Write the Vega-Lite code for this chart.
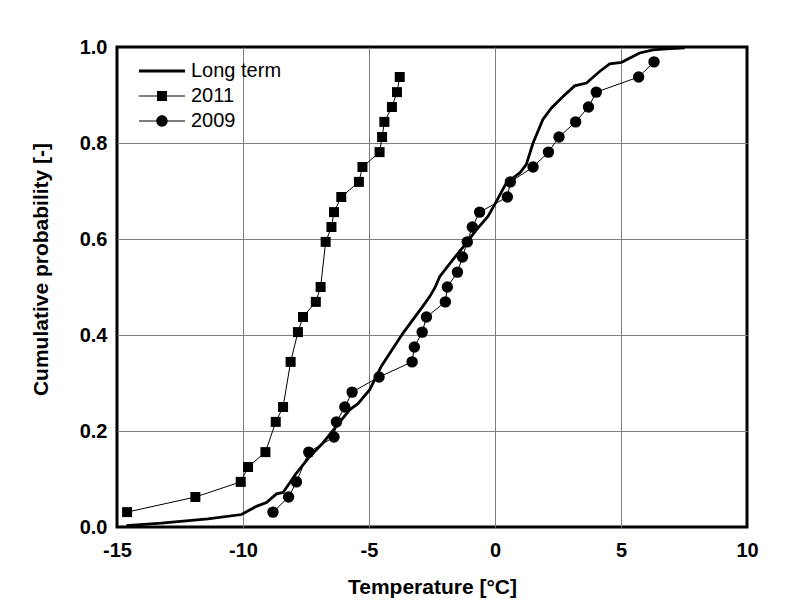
{
  "$schema": "https://vega.github.io/schema/vega-lite/v6.json",
  "width": 630,
  "height": 480,
  "autosize": {"type": "none"},
  "padding": {"left": 117, "top": 47, "right": 51, "bottom": 88},
  "background": "white",
  "config": {
    "view": {"stroke": "black", "strokeWidth": 3},
    "font": "Liberation Sans",
    "axis": {
      "labelFont": "Liberation Sans",
      "labelFontSize": 20,
      "labelFontWeight": "bold",
      "labelColor": "black",
      "labelFlush": false,
      "titleFont": "Liberation Sans",
      "titleFontSize": 21,
      "titleFontWeight": "bold",
      "titleColor": "black",
      "domain": false,
      "ticks": false,
      "gridColor": "#808080",
      "gridWidth": 1
    },
    "legend": {
      "labelFont": "Liberation Sans",
      "labelFontSize": 20,
      "labelColor": "black"
    }
  },
  "data": {
    "values": [
      {"series": "Long term", "T": -14.63, "P": 0.003},
      {"series": "Long term", "T": -13.24, "P": 0.008},
      {"series": "Long term", "T": -11.39, "P": 0.017},
      {"series": "Long term", "T": -10.06, "P": 0.026},
      {"series": "Long term", "T": -9.47, "P": 0.043},
      {"series": "Long term", "T": -9.07, "P": 0.051},
      {"series": "Long term", "T": -8.67, "P": 0.069},
      {"series": "Long term", "T": -8.41, "P": 0.072},
      {"series": "Long term", "T": -7.88, "P": 0.1125},
      {"series": "Long term", "T": -7.35, "P": 0.147},
      {"series": "Long term", "T": -6.83, "P": 0.175},
      {"series": "Long term", "T": -6.29, "P": 0.21},
      {"series": "Long term", "T": -5.77, "P": 0.244},
      {"series": "Long term", "T": -5.44, "P": 0.257},
      {"series": "Long term", "T": -4.97, "P": 0.286},
      {"series": "Long term", "T": -4.51, "P": 0.335},
      {"series": "Long term", "T": -3.65, "P": 0.404},
      {"series": "Long term", "T": -2.86, "P": 0.46},
      {"series": "Long term", "T": -2.59, "P": 0.48},
      {"series": "Long term", "T": -2.39, "P": 0.498},
      {"series": "Long term", "T": -2.19, "P": 0.522},
      {"series": "Long term", "T": -1.67, "P": 0.557},
      {"series": "Long term", "T": -1.13, "P": 0.592},
      {"series": "Long term", "T": -0.74, "P": 0.619},
      {"series": "Long term", "T": -0.28, "P": 0.647},
      {"series": "Long term", "T": 0.05, "P": 0.678},
      {"series": "Long term", "T": 0.45, "P": 0.717},
      {"series": "Long term", "T": 0.98, "P": 0.7375},
      {"series": "Long term", "T": 1.24, "P": 0.755},
      {"series": "Long term", "T": 1.51, "P": 0.8},
      {"series": "Long term", "T": 1.9, "P": 0.849},
      {"series": "Long term", "T": 2.24, "P": 0.873},
      {"series": "Long term", "T": 2.7, "P": 0.897},
      {"series": "Long term", "T": 3.16, "P": 0.919},
      {"series": "Long term", "T": 3.63, "P": 0.925},
      {"series": "Long term", "T": 4.15, "P": 0.949},
      {"series": "Long term", "T": 4.55, "P": 0.965},
      {"series": "Long term", "T": 5.02, "P": 0.968},
      {"series": "Long term", "T": 5.74, "P": 0.9875},
      {"series": "Long term", "T": 6.27, "P": 0.994},
      {"series": "Long term", "T": 6.8, "P": 0.996},
      {"series": "Long term", "T": 7.53, "P": 0.998},
      {"series": "2011", "T": -14.6, "P": 0.031},
      {"series": "2011", "T": -11.89, "P": 0.0625},
      {"series": "2011", "T": -10.09, "P": 0.094},
      {"series": "2011", "T": -9.8, "P": 0.125},
      {"series": "2011", "T": -9.11, "P": 0.156},
      {"series": "2011", "T": -8.7, "P": 0.219},
      {"series": "2011", "T": -8.41, "P": 0.25},
      {"series": "2011", "T": -8.11, "P": 0.344},
      {"series": "2011", "T": -7.82, "P": 0.406},
      {"series": "2011", "T": -7.62, "P": 0.4375},
      {"series": "2011", "T": -7.11, "P": 0.469},
      {"series": "2011", "T": -6.92, "P": 0.5},
      {"series": "2011", "T": -6.72, "P": 0.594},
      {"series": "2011", "T": -6.49, "P": 0.625},
      {"series": "2011", "T": -6.39, "P": 0.656},
      {"series": "2011", "T": -6.1, "P": 0.6875},
      {"series": "2011", "T": -5.4, "P": 0.719},
      {"series": "2011", "T": -5.26, "P": 0.75},
      {"series": "2011", "T": -4.58, "P": 0.781},
      {"series": "2011", "T": -4.48, "P": 0.8125},
      {"series": "2011", "T": -4.39, "P": 0.844},
      {"series": "2011", "T": -4.09, "P": 0.875},
      {"series": "2011", "T": -3.89, "P": 0.906},
      {"series": "2011", "T": -3.78, "P": 0.9375},
      {"series": "2009", "T": -8.81, "P": 0.031},
      {"series": "2009", "T": -8.19, "P": 0.0625},
      {"series": "2009", "T": -7.88, "P": 0.094},
      {"series": "2009", "T": -7.39, "P": 0.156},
      {"series": "2009", "T": -6.39, "P": 0.1875},
      {"series": "2009", "T": -6.29, "P": 0.219},
      {"series": "2009", "T": -5.96, "P": 0.25},
      {"series": "2009", "T": -5.67, "P": 0.281},
      {"series": "2009", "T": -4.6, "P": 0.3125},
      {"series": "2009", "T": -3.29, "P": 0.344},
      {"series": "2009", "T": -3.2, "P": 0.375},
      {"series": "2009", "T": -2.89, "P": 0.406},
      {"series": "2009", "T": -2.72, "P": 0.4375},
      {"series": "2009", "T": -1.97, "P": 0.469},
      {"series": "2009", "T": -1.89, "P": 0.5},
      {"series": "2009", "T": -1.49, "P": 0.531},
      {"series": "2009", "T": -1.29, "P": 0.5625},
      {"series": "2009", "T": -1.1, "P": 0.594},
      {"series": "2009", "T": -0.9, "P": 0.625},
      {"series": "2009", "T": -0.61, "P": 0.656},
      {"series": "2009", "T": 0.49, "P": 0.6875},
      {"series": "2009", "T": 0.61, "P": 0.719},
      {"series": "2009", "T": 1.51, "P": 0.75},
      {"series": "2009", "T": 2.12, "P": 0.781},
      {"series": "2009", "T": 2.54, "P": 0.8125},
      {"series": "2009", "T": 3.2, "P": 0.844},
      {"series": "2009", "T": 3.71, "P": 0.875},
      {"series": "2009", "T": 4.02, "P": 0.906},
      {"series": "2009", "T": 5.7, "P": 0.9375},
      {"series": "2009", "T": 6.31, "P": 0.969}
    ]
  },
  "encoding": {
    "x": {
      "field": "T",
      "type": "quantitative",
      "scale": {"domain": [-15, 10], "nice": false, "zero": false},
      "axis": {
        "title": "Temperature [°C]",
        "values": [-15, -10, -5, 0, 5, 10],
        "labelExpr": "replace(datum.label, '\u2212', '-')",
        "labelPadding": 13,
        "titlePadding": 16,
        "gridOpacity": {"condition": {"test": "datum.value <= -15 || datum.value >= 10", "value": 0}, "value": 1}
      }
    },
    "y": {
      "field": "P",
      "type": "quantitative",
      "scale": {"domain": [0, 1], "nice": false},
      "axis": {
        "title": "Cumulative probability [-]",
        "values": [0, 0.2, 0.4, 0.6, 0.8, 1.0],
        "format": ".1f",
        "labelPadding": 10,
        "titlePadding": 28,
        "titleY": 222,
        "gridOpacity": {"condition": {"test": "datum.value <= 0 || datum.value >= 1", "value": 0}, "value": 1}
      }
    }
  },
  "layer": [
    {
      "transform": [{"filter": "datum.series === 'Long term'"}],
      "mark": {"type": "line", "color": "black", "strokeWidth": 2.8}
    },
    {
      "transform": [{"filter": "datum.series !== 'Long term'"}],
      "mark": {"type": "line", "color": "black", "strokeWidth": 1},
      "encoding": {"detail": {"field": "series"}}
    },
    {
      "transform": [{"filter": "datum.series === '2011'"}],
      "mark": {"type": "point", "shape": "square", "filled": true, "color": "black", "size": 100, "opacity": 1}
    },
    {
      "transform": [{"filter": "datum.series === '2009'"}],
      "mark": {"type": "point", "shape": "circle", "filled": true, "color": "black", "size": 130, "opacity": 1}
    },
    {
      "mark": {"type": "point", "filled": true, "color": "black", "opacity": 0},
      "encoding": {
        "shape": {
          "field": "series",
          "type": "nominal",
          "scale": {
            "domain": ["Long term", "2011", "2009"],
            "range": [
              "M-2.3,-0.15H2.3V0.15H-2.3Z",
              "M-2.3,-0.05H2.3V0.05H-2.3Z M-0.5,-0.5H0.5V0.5H-0.5Z",
              "M-2.3,-0.05H2.3V0.05H-2.3Z M0.57,0A0.57,0.57 0 1,1 -0.57,0A0.57,0.57 0 1,1 0.57,0Z"
            ]
          },
          "legend": {
            "title": null,
            "orient": "none",
            "legendX": 35,
            "legendY": 14,
            "symbolSize": 400,
            "symbolFillColor": "black",
            "symbolStrokeWidth": 0,
            "labelOffset": 19,
            "rowPadding": 5,
            "encode": {"symbols": {"update": {"opacity": {"value": 1}, "fill": {"value": "black"}, "strokeWidth": {"value": 0}}}}
          }
        }
      }
    }
  ]
}
